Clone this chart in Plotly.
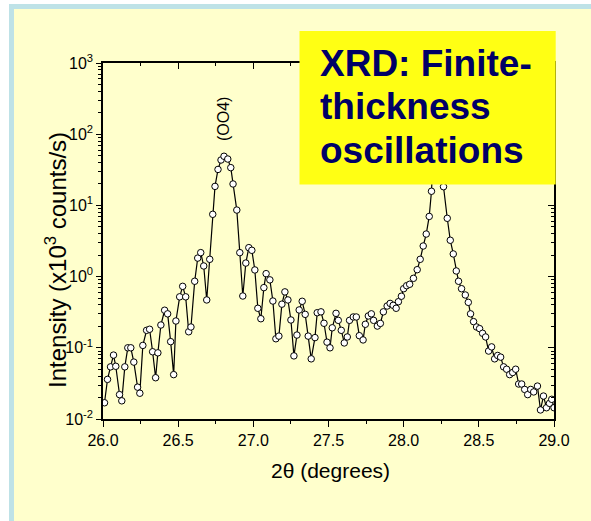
import plotly.graph_objects as go

# ---- data (2theta in degrees, intensity in 10^3 counts/s) ----
two_theta = [
    26.01, 26.03, 26.05, 26.07, 26.085, 26.11, 26.125, 26.145, 26.165, 26.185,
    26.205, 26.23, 26.245, 26.265, 26.29, 26.31, 26.33, 26.35, 26.365, 26.385,
    26.41, 26.43, 26.45, 26.47, 26.485, 26.51, 26.53, 26.55, 26.57, 26.585,
    26.61, 26.63, 26.65, 26.67, 26.69, 26.71, 26.73, 26.745, 26.765,
    26.785, 26.805, 26.83, 26.85, 26.865, 26.89, 26.91, 26.93, 26.95, 26.97,
    26.99, 27.01, 27.03, 27.05, 27.07, 27.085, 27.11, 27.13, 27.15, 27.17,
    27.19, 27.21, 27.23, 27.25, 27.27, 27.29, 27.305, 27.325, 27.345, 27.365,
    27.385, 27.41, 27.425, 27.45, 27.47, 27.49, 27.51,
    27.525, 27.55, 27.565, 27.585, 27.605, 27.625, 27.64, 27.665, 27.685, 27.705,
    27.73, 27.745, 27.765, 27.785, 27.80, 27.825, 27.845, 27.865, 27.89, 27.91,
    27.93, 27.95, 27.965, 27.985, 28.00, 28.02, 28.04, 28.065, 28.09, 28.11,
    28.13, 28.15, 28.17, 28.185, 28.205, 28.225, 28.245,
    28.265, 28.29, 28.31, 28.33, 28.35, 28.365, 28.385, 28.41, 28.43, 28.445,
    28.465, 28.485, 28.505, 28.525, 28.545, 28.565, 28.585, 28.605, 28.625, 28.645,
    28.665, 28.685, 28.705, 28.725, 28.745, 28.765, 28.785, 28.805, 28.825, 28.845,
    28.865, 28.89, 28.91, 28.93, 28.95, 28.97, 28.985, 29.00,
]
intensity = [
    0.0169, 0.036, 0.054, 0.079, 0.055, 0.022, 0.018, 0.054, 0.100, 0.100,
    0.063, 0.028, 0.023, 0.108, 0.176, 0.182, 0.088, 0.038, 0.085, 0.209,
    0.337, 0.30, 0.122, 0.042, 0.238, 0.52, 0.73, 0.52, 0.168, 0.196,
    0.86, 1.82, 2.17, 1.41, 0.47, 1.75, 7.5, 18.5, 32.0,
    43.4, 49.0, 44.8, 33.9, 20.0, 8.6, 2.17, 0.534, 1.55, 2.55,
    2.34, 1.24, 0.359, 0.256, 0.70, 1.10, 0.90, 0.454, 0.134, 0.146,
    0.41, 0.61, 0.47, 0.246, 0.077, 0.151, 0.34, 0.45, 0.295, 0.146,
    0.070, 0.139, 0.311, 0.32, 0.221, 0.12, 0.10,
    0.191, 0.305, 0.243, 0.176, 0.117, 0.142, 0.243, 0.271, 0.271, 0.148,
    0.129, 0.214, 0.28, 0.30, 0.243, 0.202, 0.22, 0.32, 0.386, 0.42,
    0.395, 0.359, 0.444, 0.53, 0.676, 0.745, 0.78, 0.946, 1.25, 1.75,
    2.69, 3.96, 7.0, 15.8, 120.0, 900.0, 200.0,
    18.3, 6.59, 3.24, 2.08, 1.2, 0.86, 0.676, 0.552, 0.435, 0.30,
    0.233, 0.196, 0.186, 0.16, 0.142, 0.090, 0.103, 0.070, 0.078, 0.074,
    0.054, 0.050, 0.042, 0.045, 0.050, 0.031, 0.031, 0.026, 0.022, 0.026,
    0.024, 0.029, 0.0134, 0.021, 0.0144, 0.0166, 0.0189, 0.0144,
]

y_tick_vals = [0.01, 0.1, 1, 10, 100, 1000]
y_tick_text = ["10<sup>-2</sup>", "10<sup>-1</sup>", "10<sup>0</sup>",
               "10<sup>1</sup>", "10<sup>2</sup>", "10<sup>3</sup>"]
x_tick_vals = [26.0, 26.5, 27.0, 27.5, 28.0, 28.5, 29.0]
x_tick_text = ["26.0", "26.5", "27.0", "27.5", "28.0", "28.5", "29.0"]

# ---- layout geometry helpers (pixels -> paper) ----
W, H = 591, 521
L, R, T, B = 103, 37, 63, 102
PW, PH = W - L - R, H - T - B


def px(x):
    return (x - L) / PW


def py(y):
    return (H - B - y) / PH


FONT = "Liberation Sans, Arial, sans-serif"
BG = "#FFFFCC"
minor_y = [m * 10 ** e for e in range(-2, 3) for m in range(2, 10)]

fig = go.Figure()
fig.add_trace(go.Scatter(
    x=two_theta, y=intensity, mode="lines+markers",
    line=dict(color="black", width=1.2),
    marker=dict(symbol="circle", size=6.5, color="white",
                line=dict(color="black", width=1)),
    showlegend=False, hoverinfo="skip",
))
# invisible trace to host the mirrored (top/right) axes
fig.add_trace(go.Scatter(x=[27.5], y=[1], xaxis="x2", yaxis="y2", mode="markers",
                         marker=dict(opacity=0), showlegend=False, hoverinfo="skip"))

axis_common = dict(showline=True, linecolor="black", linewidth=1.5,
                   showgrid=False, zeroline=False, tickcolor="black")

fig.update_layout(
    width=W, height=H,
    margin=dict(l=L, r=R, t=T, b=B),
    paper_bgcolor=BG, plot_bgcolor=BG,
    font=dict(family=FONT, color="black", size=16),
    xaxis=dict(range=[26, 29], tickmode="array", tickvals=x_tick_vals,
               ticktext=x_tick_text, ticks="outside", ticklen=6, tickwidth=1.3,
               minor=dict(ticks="outside", ticklen=3, dtick=0.25, tick0=26,
                          tickcolor="black", tickwidth=1.2),
               tickfont=dict(size=16), **axis_common),
    yaxis=dict(type="log", range=[-2, 3], tickmode="array", tickvals=y_tick_vals,
               ticktext=y_tick_text, ticks="outside", ticklen=5, tickwidth=1.3,
               minor=dict(ticks="outside", ticklen=3, tickmode="array",
                          tickvals=minor_y, tickcolor="black", tickwidth=1),
               tickfont=dict(size=16), **axis_common),
    xaxis2=dict(range=[26, 29], overlaying="x", side="top", anchor="y2",
                tickmode="array", tickvals=x_tick_vals, ticks="inside", ticklen=6,
                tickwidth=1.3, showticklabels=False,
                minor=dict(ticks="inside", ticklen=3, dtick=0.25, tick0=26,
                           tickcolor="black", tickwidth=1.2),
                **axis_common),
    yaxis2=dict(type="log", range=[-2, 3], overlaying="y", side="right", anchor="x2",
                tickmode="array", tickvals=y_tick_vals, ticks="inside", ticklen=6,
                tickwidth=1.3, showticklabels=False,
                minor=dict(ticks="inside", ticklen=3, tickmode="array",
                           tickvals=minor_y, tickcolor="black", tickwidth=1),
                **axis_common),
)

shapes = [
    # white page margin (top / left)
    dict(type="rect", xref="paper", yref="paper", x0=px(0), x1=px(W), y0=py(4), y1=py(0),
         fillcolor="white", line=dict(width=0), layer="below"),
    dict(type="rect", xref="paper", yref="paper", x0=px(0), x1=px(9), y0=py(H), y1=py(0),
         fillcolor="white", line=dict(width=0), layer="below"),
    # light-blue frame bands
    dict(type="rect", xref="paper", yref="paper", x0=px(9), x1=px(W), y0=py(9), y1=py(4),
         fillcolor="#BEE2E7", line=dict(width=0), layer="below"),
    dict(type="rect", xref="paper", yref="paper", x0=px(9), x1=px(14), y0=py(H), y1=py(4),
         fillcolor="#BEE2E7", line=dict(width=0), layer="below"),
    # yellow title box
    dict(type="rect", xref="paper", yref="paper", x0=px(299.5), x1=px(555.7),
         y0=py(184.5), y1=py(31), fillcolor="#FFFF14", line=dict(width=0), layer="above"),
]
fig.update_layout(shapes=shapes)

annotations = [
    dict(text="Intensity (x10<sup>3</sup> counts/s)", xref="paper", yref="paper",
         x=px(56), y=py(260), textangle=-90, showarrow=False,
         font=dict(size=24, family=FONT, color="black"),
         xanchor="center", yanchor="middle"),
    dict(text="2θ (degrees)", xref="paper", yref="paper",
         x=px(330), y=py(470), showarrow=False,
         font=dict(size=21, family=FONT, color="black"),
         xanchor="center", yanchor="middle"),
    dict(text="(OO4)", xref="x", yref="y", x=26.797, y=2.21, textangle=-90,
         showarrow=False, font=dict(size=16, family=FONT, color="black"),
         xanchor="center", yanchor="middle"),
]
box_lines = ["XRD: Finite-", "thickness", "oscillations"]
box_centers = [63.4, 106.7, 150.7]
for txt, yc in zip(box_lines, box_centers):
    annotations.append(dict(
        text="<b>%s</b>" % txt, xref="paper", yref="paper", x=px(318), y=py(yc),
        showarrow=False, xanchor="left", yanchor="middle",
        font=dict(size=37, family=FONT, color="#000066")))
fig.update_layout(annotations=annotations)

fig.write_html("out.html")
